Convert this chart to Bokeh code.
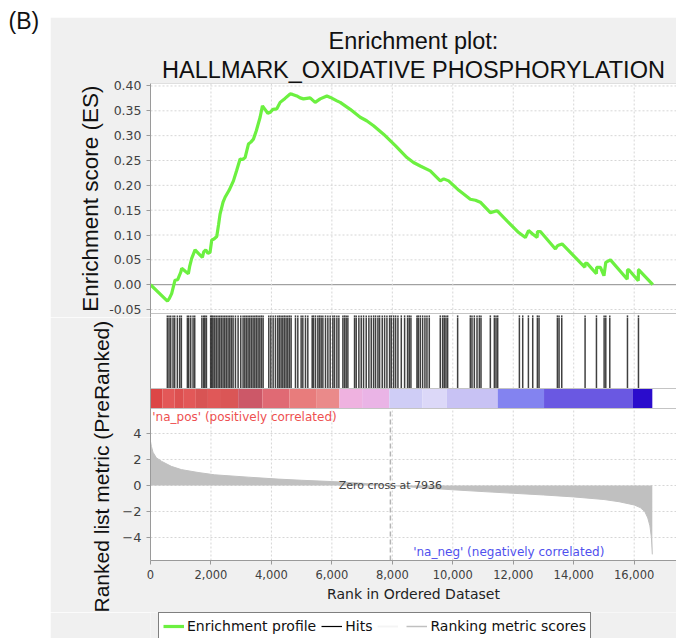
from bokeh.plotting import figure
from bokeh.models import (Range1d, FixedTicker, NumeralTickFormatter, Label, Legend,
                          LegendItem, Title, Span, Spacer)
from bokeh.layouts import row, column
from bokeh.embed import file_html
from bokeh.resources import INLINE

# ---------------- data ----------------
es_rank = [0, 560, 620, 700, 811, 900, 1000, 1032, 1150, 1252, 1300, 1363, 1474, 1600,
           1716, 1760, 1827, 1900, 1970, 2026, 2100, 2192, 2250, 2301, 2400, 2467, 2600,
           2743, 2850, 2964, 3050, 3129, 3240, 3320, 3405, 3500, 3626, 3703, 3800, 3880,
           3957, 4050, 4179, 4288, 4450, 4619, 4700, 4840, 4950, 5060, 5281, 5447, 5613,
           5834, 5950, 6166, 6275, 6606, 6937, 7150, 7379, 7709, 8100, 8483, 8700, 8924,
           9255, 9586, 9700, 9862, 10200, 10579, 10750, 10911, 11242, 11464, 11800, 12179,
           12401, 12505, 12640, 12790, 12800, 12897, 13394, 13460, 13520, 13616, 14370,
           14376, 14443, 14750, 14760, 14884, 15000, 15061, 15215, 15770, 15780, 15821,
           16135, 16142, 16152, 16616]
es_value = [0.000, -0.033, -0.028, -0.018, 0.009, 0.010, 0.025, 0.033, 0.027, 0.022, 0.038,
            0.053, 0.070, 0.062, 0.055, 0.066, 0.070, 0.063, 0.065, 0.090, 0.092, 0.097,
            0.120, 0.142, 0.166, 0.176, 0.190, 0.209, 0.230, 0.253, 0.252, 0.256, 0.283,
            0.287, 0.293, 0.310, 0.337, 0.360, 0.352, 0.345, 0.347, 0.353, 0.354, 0.367,
            0.375, 0.384, 0.383, 0.380, 0.376, 0.374, 0.376, 0.367, 0.374, 0.380, 0.377,
            0.370, 0.367, 0.353, 0.337, 0.330, 0.320, 0.303, 0.280, 0.256, 0.246, 0.239,
            0.229, 0.209, 0.213, 0.209, 0.190, 0.172, 0.170, 0.166, 0.145, 0.149, 0.128,
            0.105, 0.095, 0.109, 0.102, 0.095, 0.107, 0.107, 0.072, 0.078, 0.080, 0.082,
            0.035, 0.043, 0.043, 0.022, 0.035, 0.035, 0.018, 0.045, 0.050, 0.011, 0.030,
            0.030, 0.008, 0.030, 0.030, 0.000]

hit_rank = [557, 613, 668, 745, 800, 889, 966, 1021, 1220, 1264, 1330, 1408, 1463,
            1700, 1760, 1800, 1850, 1990, 2030, 2070, 2125, 2180, 2236, 2291, 2346, 2401,
            2456, 2511, 2567, 2622, 2677, 2732, 2810, 2898, 2986, 3063, 3119, 3174, 3229,
            3284, 3340, 3395, 3450, 3505, 3560, 3616, 3671, 3726, 3913, 3980, 4057, 4134,
            4210, 4265, 4321, 4376, 4431, 4486, 4541, 4597, 4652, 4796, 4873, 4983, 5039,
            5127, 5204, 5348, 5392, 5458, 5536, 5591, 5646, 5702, 5789, 5867, 5944, 6032,
            6088, 6165, 6231, 6364, 6420, 6474, 6529, 6750, 6805, 6893, 6971, 7048, 7136,
            7224, 7302, 7379, 7445, 7523, 7578, 7666, 7744, 7821, 7909, 7964, 8041, 8108,
            8185, 8296, 8406, 8504, 8560, 8615, 8814, 8858, 8924, 9001, 9078, 9145, 9222,
            9586, 9664, 9719, 9774, 9829, 10160, 10580, 10635, 10712, 10801, 10878, 10933,
            11242, 11375, 11430, 11485, 12203, 12313, 12501, 12644, 12798, 12853, 13460,
            13515, 13604, 14376, 14752, 15006, 15061, 15193, 15778, 16142]

metric_rank = [0, 30, 83, 193, 358, 690, 1021, 1573, 2125, 3229, 4222, 5000, 6000, 7000,
               7936, 9000, 10000, 11000, 12000, 13000, 14000, 15000, 15500, 16000, 16200,
               16350, 16450, 16520, 16570, 16600]
metric_value = [3.4, 3.0, 2.55, 2.13, 1.87, 1.47, 1.22, 1.0, 0.82, 0.64, 0.49, 0.40, 0.30,
                0.17, 0.0, -0.18, -0.33, -0.47, -0.60, -0.73, -0.88, -1.08, -1.25, -1.50,
                -1.70, -2.0, -2.5, -3.1, -4.0, -5.3]

bar_edges = [0, 400, 800, 1100, 1500, 1900, 2300, 2900, 3700, 4600, 5500, 6250, 7000, 7900,
             9000, 9800, 11485, 13018, 15944, 16600]
bar_colors = ["#dc4646", "#e35858", "#dd5050", "#e25858", "#d85454", "#e05858", "#da5656",
              "#cc5868", "#e06a74", "#e87c7c", "#ea8a8a", "#efb2e0", "#eab4e6", "#cfcdf6",
              "#dcd8f8", "#c8c2f4", "#8383f0", "#6a58e2", "#2a0ccc"]

x_ticks = [0, 2000, 4000, 6000, 8000, 10000, 12000, 14000, 16000]
es_ticks = [-0.05, 0.0, 0.05, 0.10, 0.15, 0.20, 0.25, 0.30, 0.35, 0.40]
metric_ticks = [-4, -2, 0, 2, 4]
zero_cross = 7936
x_end = 17400

# ---------------- layout constants ----------------
# The upper canvas runs 4 px past the ES panel so that the lowest ES tick label
# is not cut; those 4 px show the top of the hits panel.
FIG_W = 626
SPILL = 4
ES_H, BOT_H, LEG_H = 296 + SPILL, 299 - SPILL, 26
B_LEFT, ES_TOP, BOT_BOT = 100, 66, 52
H1 = ES_H - ES_TOP                      # frame height of upper figure
H2 = BOT_H - BOT_BOT                    # frame height of lower figure
ES_PX, ES_DOM = (0, 230), (0.405, -0.058)
HIT_DOM, BAR_DOM = (1.0, 0.0), (1.0, 0.0)
HIT_PX1 = (230, 305)                                  # hits panel in upper frame
HIT_PX2, BAR_PX2 = (-SPILL, 75 - SPILL), (75 - SPILL, 95 - SPILL)
RNK_PX, RNK_DOM = (95 - SPILL, H2), (5.92, -5.77)

GRID = dict(line_color="#d6d6d6", line_dash="2 2", line_width=1)
SEP = "#c4c4c4"
TICK_FONT = "DejaVu Sans"
BG = "#f0f0f0"
GREEN = "#6cf040"


def ppu(px, dom):
    return (px[1] - px[0]) / (dom[0] - dom[1])


def full_range(px, dom, h):
    s = ppu(px, dom)
    return Range1d(start=dom[1] - (h - px[1]) / s, end=dom[0] + px[0] / s)


def style_axes(fig):
    for ax in fig.axis:
        ax.axis_line_color = "#9a9a9a"
        ax.major_tick_line_color = "#9a9a9a"
        ax.major_tick_out = 4
        ax.major_tick_in = 0
        ax.minor_tick_line_color = None
        ax.major_label_text_font = TICK_FONT
        ax.major_label_text_color = "#404040"


xr = Range1d(0, x_end)
gx = x_ticks[1:]
n = len(gx)
nh = len(hit_rank)

# ================= upper figure: enrichment score =================
p1 = figure(width=FIG_W, height=ES_H, x_range=xr, y_range=full_range(ES_PX, ES_DOM, H1),
            output_backend="svg", toolbar_location=None, title=None, x_axis_location=None,
            min_border_left=B_LEFT, min_border_right=0, min_border_top=ES_TOP,
            min_border_bottom=0)
p1.extra_y_ranges = {"hits": full_range(HIT_PX1, HIT_DOM, H1)}
p1.background_fill_color = "white"
p1.border_fill_color = BG
p1.outline_line_color = None
p1.grid.visible = False
p1.segment(x0=gx, x1=gx, y0=[ES_DOM[1]] * n, y1=[ES_DOM[0]] * n, **GRID)
es_grid = [t for t in es_ticks if t != 0.0]
p1.segment(x0=[0] * len(es_grid), x1=[x_end] * len(es_grid), y0=es_grid, y1=es_grid, **GRID)
p1.segment(x0=gx, x1=gx, y0=[HIT_DOM[1]] * n, y1=[HIT_DOM[0]] * n, y_range_name="hits", **GRID)
p1.segment(x0=hit_rank, x1=hit_rank, y0=[HIT_DOM[1]] * nh, y1=[0.975] * nh,
           y_range_name="hits", line_color="black", line_alpha=0.75, line_width=1.5)
p1.add_layout(Span(location=0, dimension="width", line_color="#8c8c8c", line_width=1,
                   level="underlay"))
p1.line(es_rank, es_value, line_color=GREEN, line_width=3.2)
for loc in ES_DOM:
    p1.add_layout(Span(location=loc, dimension="width", line_color=SEP, line_width=1))
p1.yaxis.ticker = FixedTicker(ticks=es_ticks, minor_ticks=[])
p1.yaxis.formatter = NumeralTickFormatter(format="0.00")
p1.yaxis.major_label_text_font_size = "12.5px"
style_axes(p1)
for txt in ["HALLMARK_OXIDATIVE PHOSPHORYLATION", "Enrichment plot:"]:
    p1.add_layout(Title(text=txt, align="center", text_font="Liberation Sans",
                        text_font_size="23.5px", text_font_style="normal",
                        text_color="#111111", standoff=1), "above")
p1.add_layout(Title(text="Enrichment score (ES)", align="right", offset=2,
                    text_font="Liberation Sans", text_font_size="22.5px",
                    text_font_style="normal", text_color="#111111", standoff=8), "left")

# ================= lower figure: hits, colour bar, ranked metric =================
p2 = figure(width=FIG_W, height=BOT_H, x_range=xr, y_range=full_range(RNK_PX, RNK_DOM, H2),
            output_backend="svg", toolbar_location=None, title=None,
            min_border_left=B_LEFT, min_border_right=0, min_border_top=0,
            min_border_bottom=BOT_BOT)
p2.extra_y_ranges = {"hits": full_range(HIT_PX2, HIT_DOM, H2),
                     "bar": full_range(BAR_PX2, BAR_DOM, H2)}
p2.background_fill_color = "white"
p2.border_fill_color = BG
p2.outline_line_color = None
p2.grid.visible = False

p2.segment(x0=gx, x1=gx, y0=[HIT_DOM[1]] * n, y1=[HIT_DOM[0]] * n, y_range_name="hits", **GRID)
p2.segment(x0=gx, x1=gx, y0=[RNK_DOM[1]] * n, y1=[RNK_DOM[0]] * n, **GRID)
p2.segment(x0=[0] * len(metric_ticks), x1=[x_end] * len(metric_ticks), y0=metric_ticks,
           y1=metric_ticks, **GRID)

p2.varea(x=metric_rank, y1=0, y2=metric_value, fill_color="#c0c0c0")
p2.line(metric_rank, metric_value, line_color="#c0c0c0", line_width=1)
p2.segment(x0=[zero_cross], x1=[zero_cross], y0=[RNK_DOM[1]], y1=[RNK_DOM[0]],
           line_color="#b4b4b4", line_dash="5 3", line_width=1.5)

p2.segment(x0=hit_rank, x1=hit_rank, y0=[HIT_DOM[1]] * nh, y1=[0.975] * nh,
           y_range_name="hits", line_color="black", line_alpha=0.75, line_width=1.5)
p2.quad(left=bar_edges[:-1], right=bar_edges[1:], bottom=BAR_DOM[1], top=BAR_DOM[0],
        y_range_name="bar", fill_color=bar_colors, line_color=None)
for loc, rn in [(HIT_DOM[1], "hits"), (BAR_DOM[1], "bar")]:
    p2.add_layout(Span(location=loc, dimension="width", y_range_name=rn,
                       line_color=SEP, line_width=1))

p2.yaxis.ticker = FixedTicker(ticks=metric_ticks, minor_ticks=[])
p2.yaxis.major_label_text_font_size = "13px"
p2.xaxis.ticker = FixedTicker(ticks=x_ticks, minor_ticks=[])
p2.xaxis.formatter = NumeralTickFormatter(format="0,0")
p2.xaxis.major_label_text_font_size = "11.5px"
p2.xaxis.axis_label = "Rank in Ordered Dataset"
p2.xaxis.axis_label_text_font = "DejaVu Sans"
p2.xaxis.axis_label_text_font_size = "14px"
p2.xaxis.axis_label_text_font_style = "normal"
p2.xaxis.axis_label_text_color = "#222222"
p2.xaxis.axis_label_standoff = 4
style_axes(p2)

p2.add_layout(Title(text="Ranked list metric (PreRanked)", align="left", offset=-52,
                    text_font="Liberation Sans", text_font_size="21px",
                    text_font_style="normal", text_color="#111111", standoff=13), "left")

p2.add_layout(Label(x=60, y=5.23, text="'na_pos' (positively correlated)", text_align="left",
                    text_baseline="middle", text_font="DejaVu Sans", text_font_size="12px",
                    text_color="#ee5050"))
p2.add_layout(Label(x=11850, y=-5.12, text="'na_neg' (negatively correlated)",
                    text_align="center", text_baseline="middle", text_font="DejaVu Sans",
                    text_font_size="12px", text_color="#5050ee"))
p2.add_layout(Label(x=zero_cross, y=0, text="Zero cross at " + str(zero_cross),
                    text_align="center", text_baseline="middle", text_font="DejaVu Sans",
                    text_font_size="11px", text_color="#444444"))

# ================= legend strip =================
# the proxies carry the real series but sit outside this strip's visible y span,
# so only their legend swatches are seen
p3 = figure(width=FIG_W, height=LEG_H, x_range=xr, y_range=Range1d(-20, -19),
            output_backend="svg", toolbar_location=None, title=None,
            x_axis_location=None, y_axis_location=None,
            min_border_left=B_LEFT, min_border_right=0, min_border_top=0,
            min_border_bottom=0)
p3.grid.visible = False
p3.outline_line_color = None
p3.background_fill_color = BG
p3.border_fill_color = BG
es_proxy = p3.line(es_rank, es_value, line_color=GREEN, line_width=3.2)
hits_proxy = p3.segment(x0=hit_rank, x1=hit_rank, y0=[HIT_DOM[1]] * nh,
                        y1=[HIT_DOM[0]] * nh, line_color="black", line_width=1.2)
blank_proxy = p3.line(metric_rank, metric_value, line_color="#f4f4f4", line_width=2)
metric_proxy = p3.line(metric_rank, metric_value, line_color="#c0c0c0", line_width=1.5)
legend = Legend(items=[LegendItem(label="Enrichment profile", renderers=[es_proxy]),
                       LegendItem(label="Hits", renderers=[hits_proxy]),
                       LegendItem(label=" ", renderers=[blank_proxy]),
                       LegendItem(label="Ranking metric scores", renderers=[metric_proxy])],
                orientation="horizontal", location=(8, -2), margin=0, padding=4,
                spacing=5, glyph_width=21, glyph_height=18, label_height=18,
                label_width=0, label_standoff=3, label_text_font="DejaVu Sans",
                label_text_font_size="14px", label_text_color="#111111",
                border_line_color="black", border_line_width=1,
                background_fill_color="white", background_fill_alpha=1.0)
p3.add_layout(legend)

# ---- left strip with panel letter ----
left = figure(width=50, height=638, x_range=Range1d(0, 50), y_range=Range1d(0, 638),
              x_axis_type=None, y_axis_type=None, output_backend="svg",
              toolbar_location=None, min_border=0)
left.grid.visible = False
left.outline_line_color = None
left.background_fill_color = "white"
left.border_fill_color = "white"
left.add_layout(Label(x=8, y=631, text="(B)", text_align="left", text_baseline="top",
                      text_font="Liberation Sans", text_font_size="23px",
                      text_color="#111111"))

layout = row(left, column(Spacer(width=FIG_W, height=17), p1, p2, p3))
open("out.html", "w").write(file_html(layout, INLINE))
